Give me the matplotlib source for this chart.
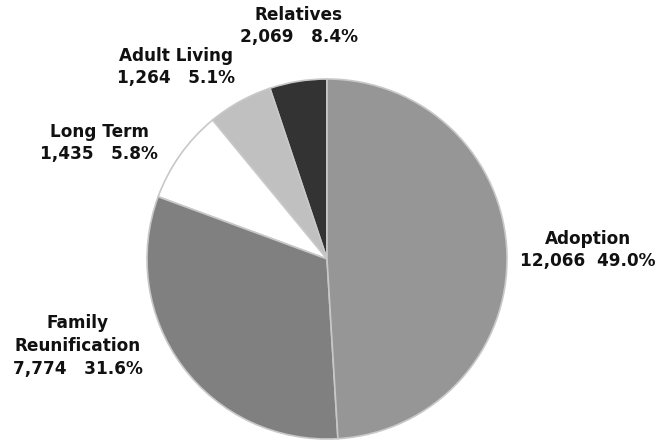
import matplotlib.pyplot as plt

# slice values, counter-clockwise from 12 o'clock as drawn in the reference
slice_counts = [1264, 1435, 2069, 7774, 12066]
slice_colors = ['#333333', '#c0c0c0', '#ffffff', '#808080', '#969696']

# label texts as printed on the chart
label_names = ['Relatives', 'Adult Living', 'Long Term', 'Family\nReunification', 'Adoption']
label_counts = ['2,069', '1,264', '1,435', '7,774', '12,066']
label_pcts = ['8.4%', '5.1%', '5.8%', '31.6%', '49.0%']
label_gaps = ['   ', '   ', '   ', '   ', '  ']

# label anchor points in pixels (x from left, y from top)
label_xy = [(299, 26), (176, 67), (99, 143), (78, 346), (588, 250)]

W, H = 658, 440
fig = plt.figure(figsize=(W / 100, H / 100), dpi=100)
ax = fig.add_axes([0, 0, 1, 1])

ax.pie(slice_counts, colors=slice_colors, startangle=90, counterclock=True,
       center=(327, H - 259), radius=180, frame=True,
       wedgeprops=dict(edgecolor='#c8c8c8', linewidth=1.2))
ax.set_xlim(0, W)
ax.set_ylim(0, H)
ax.set_aspect('equal')
ax.axis('off')

for name, cnt, pct, gap, (x, y) in zip(label_names, label_counts, label_pcts, label_gaps, label_xy):
    ax.text(x, H - y, name + '\n' + cnt + gap + pct, ha='center', va='center',
            fontsize=12.2, fontweight='bold', color='#111111', linespacing=1.35)

fig.savefig('out.png', dpi=100)
